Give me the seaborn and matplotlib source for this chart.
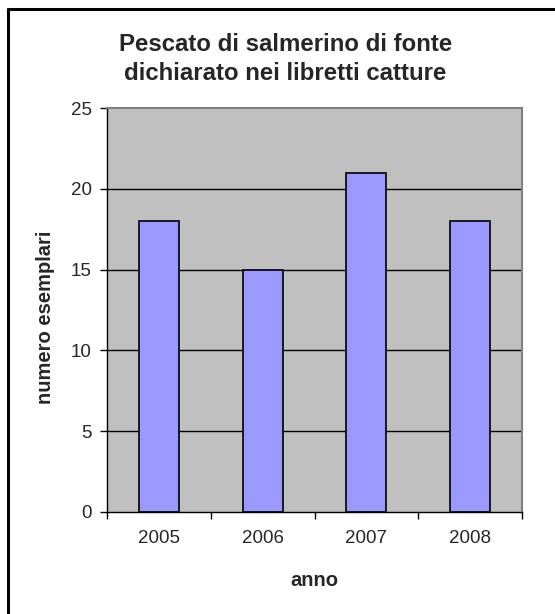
import pandas as pd
import matplotlib.pyplot as plt
import seaborn as sns
from matplotlib.lines import Line2D

# Data
anni = ['2005', '2006', '2007', '2008']
esemplari = [18, 15, 21, 18]
y_ticks = [0, 5, 10, 15, 20, 25]

df = pd.DataFrame({'anno': anni, 'numero esemplari': esemplari})

sns.set_style('white')
plt.rcParams['font.family'] = ['Liberation Sans', 'DejaVu Sans']

fig = plt.figure(figsize=(5.55, 6.14), dpi=100)
ax = fig.add_axes([107 / 555, 102 / 614, 415 / 555, 404 / 614])
ax.set_facecolor('#C0C0C0')

# Gridlines behind the bars
for v in y_ticks[1:-1]:
    ax.axhline(v, color='black', linewidth=1, zorder=0.5)

sns.barplot(data=df, x='anno', y='numero esemplari', color='#9999FF',
            width=0.385, edgecolor='black', linewidth=1.2, saturation=1, ax=ax, zorder=2)

ax.set_ylim(0, 25)
ax.set_xlim(-0.5, 3.5)
ax.set_yticks(y_ticks)
ax.set_yticklabels([str(t) for t in y_ticks], fontsize=13.5)
ax.tick_params(axis='y', length=5, width=1, color='black', pad=6, left=True)

# x ticks at the category boundaries
ax.set_xticks([0, 1, 2, 3])
ax.set_xticklabels(anni, fontsize=13.5)
ax.tick_params(axis='x', which='major', length=0, pad=13, bottom=True)
ax.set_xticks([-0.5, 0.5, 1.5, 2.5, 3.5], minor=True)
ax.tick_params(axis='x', which='minor', length=5, width=1, color='black', bottom=True)

ax.set_xlabel('anno', fontsize=14.5, fontweight='bold', labelpad=17)
ax.set_ylabel('numero esemplari', fontsize=14.5, fontweight='bold')
ax.yaxis.set_label_coords(-0.125, 0.483)

for side in ['left', 'bottom']:
    ax.spines[side].set_color('black')
    ax.spines[side].set_linewidth(1)
for side in ['top', 'right']:
    ax.spines[side].set_color('#808080')
    ax.spines[side].set_linewidth(1.5)

fig.text(285.5 / 555, 1 - 59 / 614, 'Pescato di salmerino di fonte\ndichiarato nei libretti catture',
         ha='center', va='center', fontsize=17.3, fontweight='bold', linespacing=1.35)

# Chart frame (only top and left visible)
fig.add_artist(Line2D([8 / 555, 1.0], [1 - 9 / 614, 1 - 9 / 614], color='black', linewidth=2.2,
                      transform=fig.transFigure))
fig.add_artist(Line2D([8 / 555, 8 / 555], [0.0, 1 - 9 / 614], color='black', linewidth=2.2,
                      transform=fig.transFigure))

fig.savefig('out.png', dpi=100)
